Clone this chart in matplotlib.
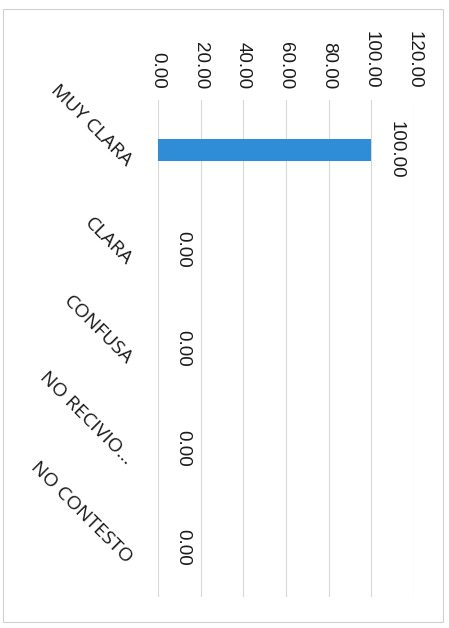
import matplotlib.pyplot as plt
from matplotlib.patches import Rectangle
import numpy as np

plt.rcParams['font.family'] = ['Liberation Sans', 'DejaVu Sans']

# data
categories = ['MUY CLARA', 'CLARA', 'CONFUSA', 'NO RECIVIO...', 'NO CONTESTO']
values = [100.0, 0.0, 0.0, 0.0, 0.0]
ticks = [0, 20, 40, 60, 80, 100, 120]

W, H = 449, 628
fig = plt.figure(figsize=(W / 100, H / 100), dpi=100)

# axes placed in pixel terms (0 at x=158, 120 at x=414, plot from y=100 to 597)
left, right, top, bottom = 158, 414, 100, 597
ax = fig.add_axes([left / W, 1 - bottom / H, (right - left) / W, (bottom - top) / H])

y = np.arange(len(categories))
ax.barh(y, values, height=0.22, color='#2f8dd8', zorder=3)

ax.set_xlim(0, 120)
ax.set_ylim(len(categories) - 0.5, -0.5)
ax.set_xticks(ticks)
ax.set_xticklabels([f'{t:.2f}' for t in ticks], rotation=-90, fontsize=13.5)
ax.xaxis.tick_top()
ax.tick_params(axis='x', length=0, pad=8, labelcolor='#1a1a1a')

# category labels drawn by hand so they can sit a bit below the bar centre
ax.set_yticks(y)
ax.set_yticklabels([])
ax.tick_params(axis='y', length=0)
for yi, c in zip(y, categories):
    ax.annotate(c, (0, yi), xycoords=('axes fraction', 'data'),
                xytext=(-16, -5), textcoords='offset points',
                rotation=-45, rotation_mode='anchor', ha='right', va='top',
                fontsize=14, family=['Open Sans', 'DejaVu Sans'], color='#1a1a1a')

ax.grid(axis='x', color='#d9d9d9', linewidth=0.8, zorder=0)
for s in ax.spines.values():
    s.set_visible(False)

for yi, v in zip(y, values):
    ax.annotate(f'{v:.2f}', (v, yi), xytext=(12, 0), textcoords='offset points',
                rotation=-90, ha='left', va='center', fontsize=13.5, color='#1a1a1a')

# light chart border
fig.patches.append(Rectangle((3 / W, 1 - 622 / H), 440 / W, 613 / H,
                             transform=fig.transFigure, fill=False,
                             edgecolor='#d0d0d0', linewidth=0.8))

fig.savefig('out.png', dpi=100)
